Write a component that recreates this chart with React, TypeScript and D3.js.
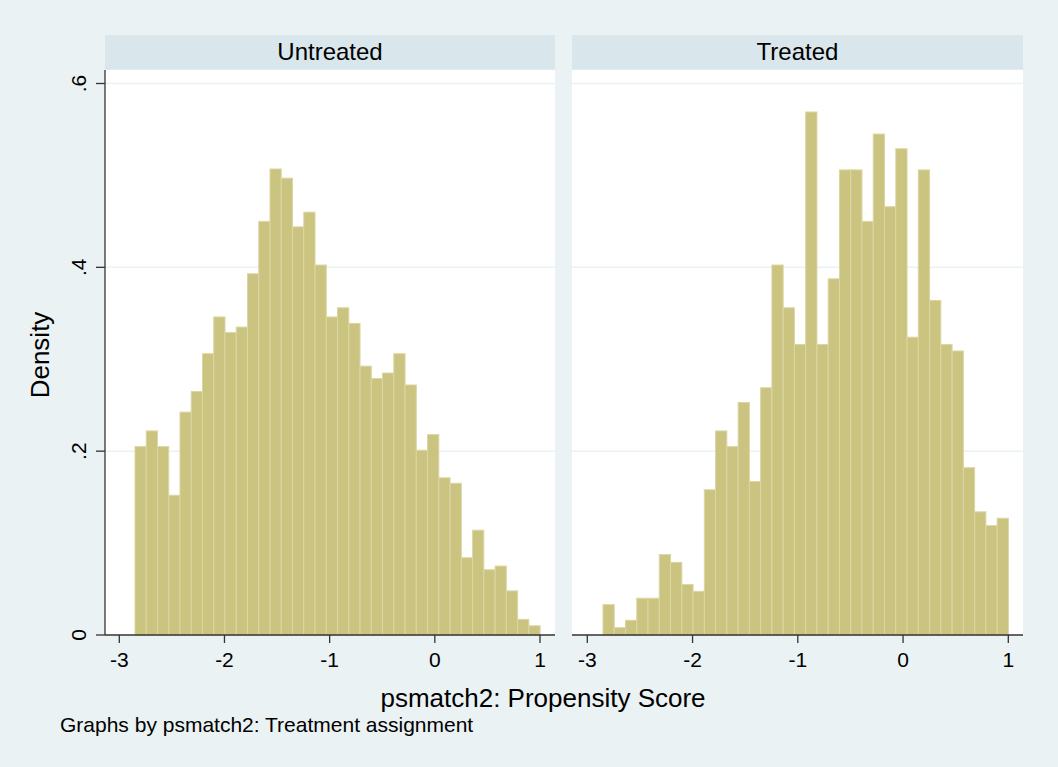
import React from "react";
import * as d3 from "d3";

// Histogram definition (equal-width bins)
const binStart = -2.851;
const binWidth = 0.107;

// Density per bin
const untreated = [
  0.205, 0.222, 0.205, 0.152, 0.2425, 0.265, 0.306, 0.346, 0.329, 0.335, 0.393, 0.45,
  0.507, 0.497, 0.444, 0.46, 0.4025, 0.346, 0.356, 0.339, 0.2925, 0.279, 0.285, 0.306,
  0.272, 0.201, 0.218, 0.171, 0.165, 0.084, 0.114, 0.071, 0.075, 0.048, 0.017, 0.01,
];
const treated = [
  0.033, 0.008, 0.016, 0.04, 0.04, 0.0875, 0.079, 0.055, 0.0475, 0.158, 0.222, 0.205,
  0.253, 0.167, 0.269, 0.4025, 0.356, 0.316, 0.569, 0.316, 0.3875, 0.506, 0.506, 0.45,
  0.545, 0.466, 0.529, 0.324, 0.506, 0.364, 0.316, 0.309, 0.182, 0.134, 0.119, 0.127,
];

const panelTitles = ["Untreated", "Treated"];
const xTicks = [-3, -2, -1, 0, 1];
const yTicks = [0, 0.2, 0.4, 0.6];
const yTickLabels = ["0", ".2", ".4", ".6"];

const FONT = "'Liberation Sans', Arial, Helvetica, sans-serif";
const BG = "#eaf2f3";
const HEADER = "#d9e6eb";
const BAR = "#cbc380";
const BAR_EDGE = "#dcd6a3";
const AXIS = "#333";

const W = 1058;
const H = 767;
const plotTop = 70;
const plotBottom = 635;
const headerTop = 35;
const headerBottom = 69.5;

const panels = [
  { left: 105, right: 555, x0: 119.3, x1: 540, data: untreated, title: panelTitles[0], yAxis: true },
  { left: 572, right: 1023, x0: 587.3, x1: 1008.3, data: treated, title: panelTitles[1], yAxis: false },
];

export default function App() {
  const y = d3.scaleLinear().domain([0, 0.6]).range([plotBottom, 83.5]);
  return (
    <svg
      width={W}
      height={H}
      style={{ position: "absolute", left: 0, top: 0, display: "block" }}
      fontFamily={FONT}
    >
      <rect x={0} y={0} width={W} height={H} fill={BG} />
      {panels.map((p, pi) => {
        const x = d3.scaleLinear().domain([-3, 1]).range([p.x0, p.x1]);
        return (
          <g key={pi}>
            <rect x={p.left} y={headerTop} width={p.right - p.left} height={headerBottom - headerTop} fill={HEADER} />
            <text x={(p.left + p.right) / 2} y={60} textAnchor="middle" fontSize={24} fill="#000">
              {p.title}
            </text>
            <rect x={p.left} y={plotTop} width={p.right - p.left} height={plotBottom - plotTop} fill="#fff" />
            {yTicks.slice(1).map((t) => (
              <line key={t} x1={p.left} x2={p.right} y1={y(t)} y2={y(t)} stroke={BG} strokeWidth={1.5} />
            ))}
            {p.data.map((v, i) => {
              const a = binStart + i * binWidth;
              const b = a + binWidth;
              return (
                <rect
                  key={i}
                  x={x(a)}
                  y={y(v)}
                  width={x(b) - x(a)}
                  height={y(0) - y(v)}
                  fill={BAR}
                  stroke={BAR_EDGE}
                  strokeWidth={1}
                />
              );
            })}
            <line x1={p.left} x2={p.right} y1={plotBottom} y2={plotBottom} stroke={AXIS} strokeWidth={1.3} />
            {xTicks.map((t) => (
              <g key={t}>
                <line x1={x(t)} x2={x(t)} y1={plotBottom} y2={plotBottom + 8} stroke={AXIS} strokeWidth={1.3} />
                <text x={x(t)} y={667} textAnchor="middle" fontSize={21} fill="#000">
                  {t}
                </text>
              </g>
            ))}
            {p.yAxis && (
              <g>
                <line x1={p.left} x2={p.left} y1={plotTop} y2={plotBottom} stroke={AXIS} strokeWidth={1.3} />
                {yTicks.map((t, i) => (
                  <g key={t}>
                    <line x1={p.left - 9} x2={p.left} y1={y(t)} y2={y(t)} stroke={AXIS} strokeWidth={1.3} />
                    <text
                      transform={`translate(86,${y(t)}) rotate(-90)`}
                      textAnchor="middle"
                      fontSize={21}
                      fill="#000"
                    >
                      {yTickLabels[i]}
                    </text>
                  </g>
                ))}
              </g>
            )}
          </g>
        );
      })}
      <text transform={`translate(49,355) rotate(-90)`} textAnchor="middle" fontSize={26} fill="#000">
        Density
      </text>
      <text x={543} y={707} textAnchor="middle" fontSize={26} fill="#000">
        psmatch2: Propensity Score
      </text>
      <text x={60} y={732} fontSize={21} fill="#000">
        Graphs by psmatch2: Treatment assignment
      </text>
    </svg>
  );
}
